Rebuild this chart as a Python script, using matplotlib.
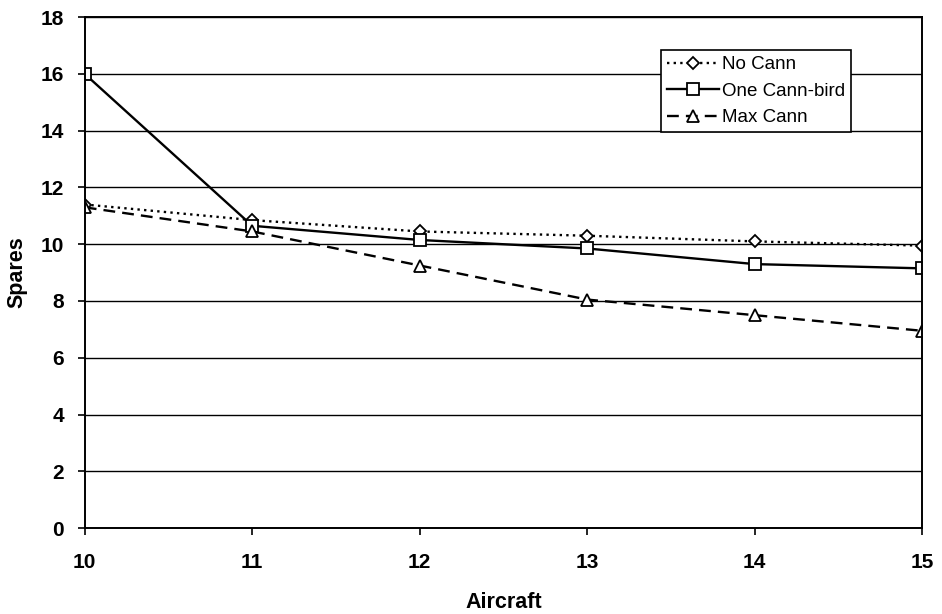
import matplotlib.pyplot as plt

# Data
aircraft = [10, 11, 12, 13, 14, 15]
no_cann = [11.4, 10.85, 10.45, 10.3, 10.1, 9.95]
one_cann_bird = [16.0, 10.65, 10.15, 9.85, 9.3, 9.15]
max_cann = [11.3, 10.45, 9.25, 8.05, 7.5, 6.95]

plt.rcParams['font.family'] = ['Liberation Sans', 'DejaVu Sans']

fig = plt.figure(figsize=(9.42, 6.14), dpi=100)
ax = fig.add_axes([0.090, 0.140, 0.889, 0.832])

mk = dict(markerfacecolor='white', markeredgecolor='black', markersize=8,
          markeredgewidth=1.3, color='black', lw=1.7)
ax.plot(aircraft, no_cann, linestyle=(0, (1, 1.8)), marker='D', label='No Cann',
        **{**mk, 'markersize': 6.5})
ax.plot(aircraft, one_cann_bird, linestyle='-', marker='s', label='One Cann-bird', **mk)
ax.plot(aircraft, max_cann, linestyle=(0, (5, 3)), marker='^', label='Max Cann', **mk)

ax.set_xlim(10, 15)
ax.set_ylim(0, 18)
ax.set_yticks(range(0, 19, 2))
ax.set_xticks(aircraft)
ax.yaxis.grid(True, color='black', lw=1.0)
ax.set_axisbelow(True)
for s in ax.spines.values():
    s.set_linewidth(1.4)

ax.tick_params(axis='both', labelsize=15, width=1.2, length=5, direction='out')
for lbl in ax.get_xticklabels() + ax.get_yticklabels():
    lbl.set_fontweight('bold')
ax.tick_params(axis='x', pad=13)
ax.tick_params(axis='y', pad=10)

ax.set_xlabel('Aircraft', fontsize=15.5, fontweight='bold')
ax.set_ylabel('Spares', fontsize=15.5, fontweight='bold')
ax.xaxis.set_label_coords(0.5, -0.125)
ax.yaxis.set_label_coords(-0.068, 0.5)

leg = ax.legend(loc='upper left', bbox_to_anchor=(0.688, 0.935), fontsize=13.5,
                frameon=True, fancybox=False, edgecolor='black', framealpha=1,
                handlelength=2.8, handletextpad=0.15, borderpad=0.3, labelspacing=0.5,
                borderaxespad=0)
leg.get_frame().set_linewidth(1.2)

fig.savefig('out.png', dpi=100)
